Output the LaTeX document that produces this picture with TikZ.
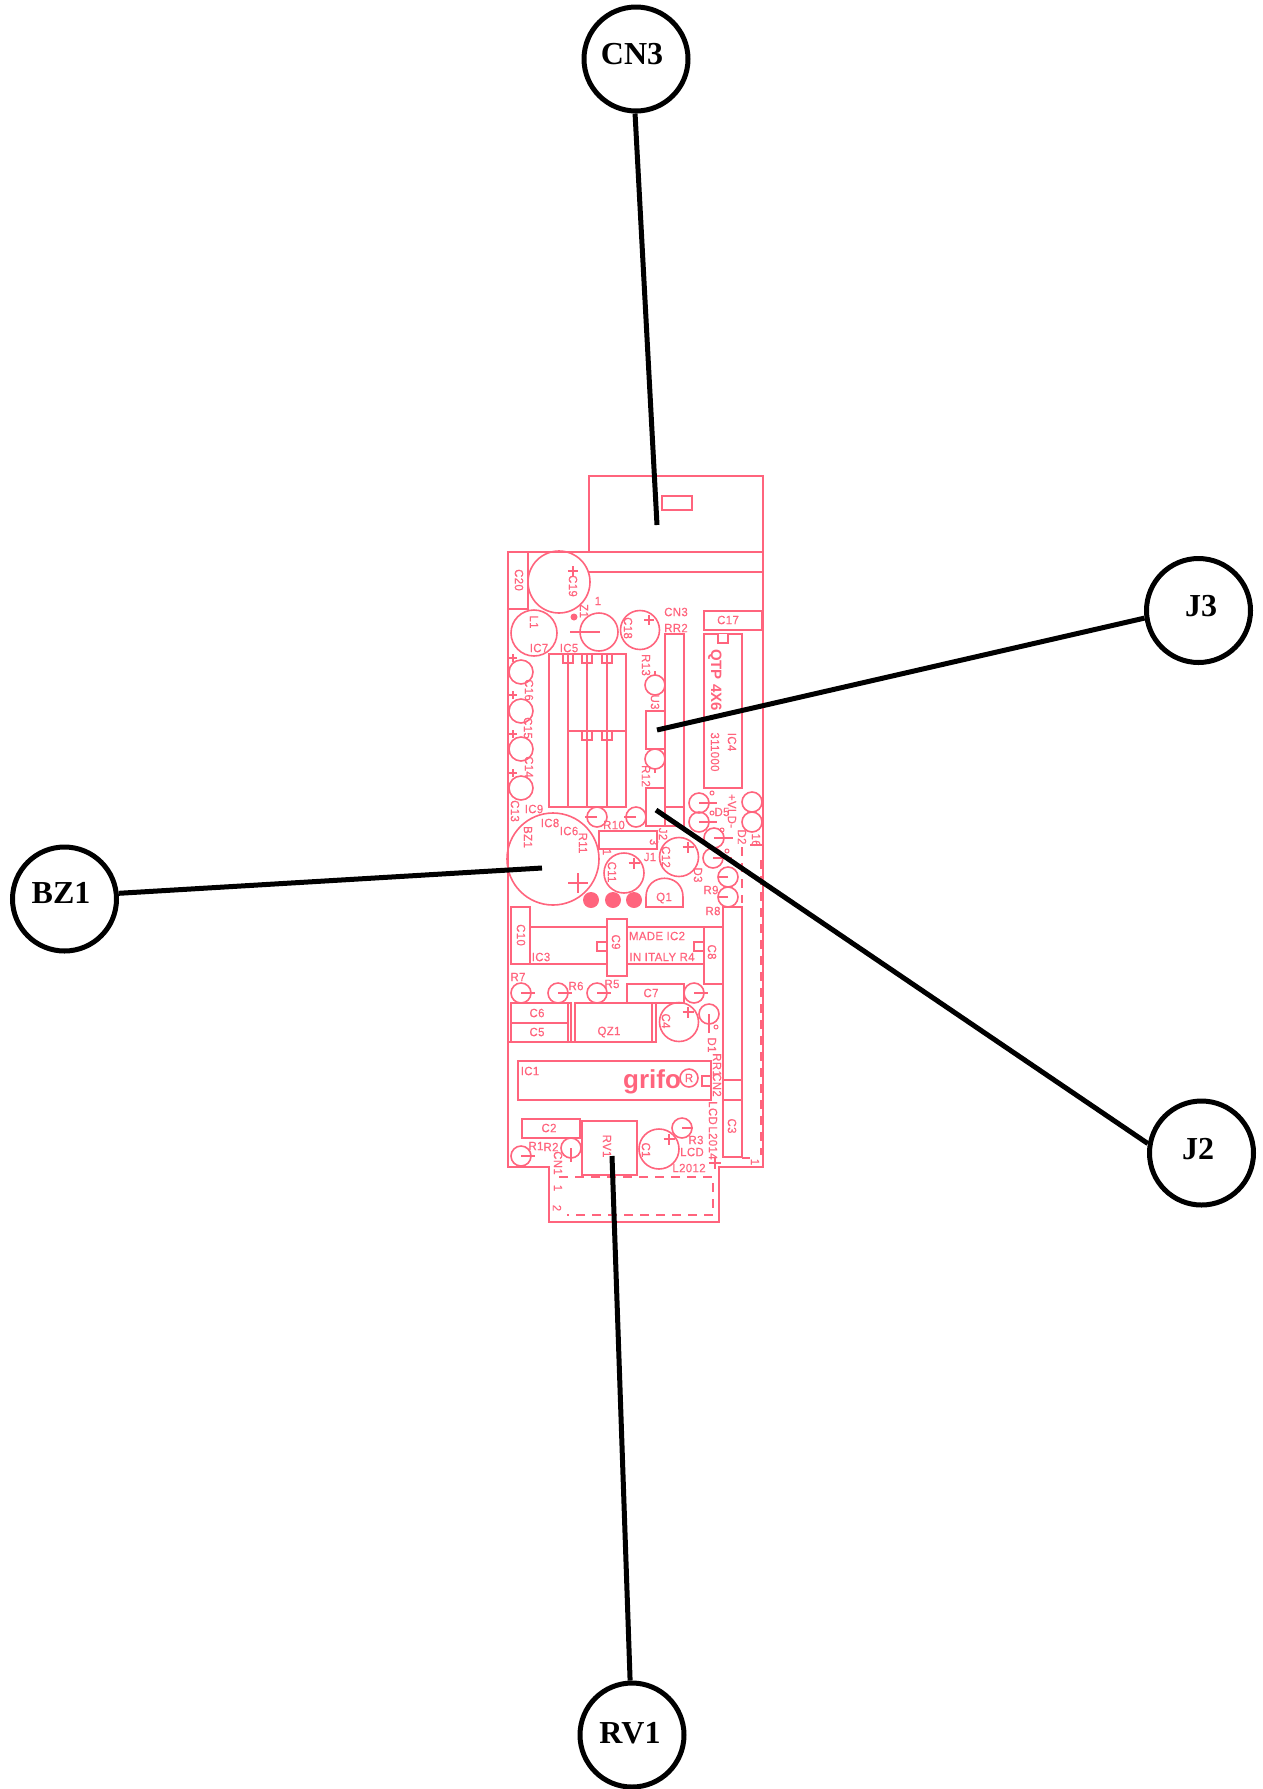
\documentclass[tikz,border=0pt]{standalone}
\usepackage{fontspec}
\setmainfont{Liberation Serif}
\setsansfont{Liberation Sans}
\newfontfamily\pcbfont[FakeStretch=0.95,FakeBold=0.4,LetterSpace=3]{Liberation Sans}
\definecolor{pcbpink}{RGB}{255,100,125}
\tikzset{
  pcb/.style={draw=pcbpink,line width=1.6pt},
  pcbdash/.style={pcb,dash pattern=on 9pt off 7pt},
  pcbtext/.style={text=pcbpink,inner sep=0pt,font=\pcbfont\fontsize{12}{12}\selectfont},
  pcbbold/.style={text=pcbpink,inner sep=0pt,font=\sffamily\bfseries\fontsize{15}{15}\selectfont},
  tagcircle/.style={circle,draw=black,line width=5pt,fill=white,minimum size=104pt,inner sep=0pt},
  tagtext/.style={inner sep=0pt,font=\rmfamily\bfseries\fontsize{32}{32}\selectfont},
  tagline/.style={draw=black,line width=5pt},
}
\begin{document}
\begin{tikzpicture}[x=1pt,y=-1pt]
\useasboundingbox (0,0) rectangle (1263,1789);
% board outline
\draw[pcb] (589,552) -- (589,476) -- (763,476) -- (763,1167) -- (719,1167) -- (719,1222) -- (549,1222) -- (549,1167) -- (508,1167) -- (508,552) -- cycle;
\draw[pcb] (589,552) -- (763,552) (589,572) -- (763,572);
% rectangles
\foreach \a/\b/\c/\d in {
 662/496/692/510, 508/552/528/609, 704/611/762/630, 704/634/742/788,
 549/654/626/807, 568/654/587/807, 587/654/607/807,
 563/654/573/663, 582/654/592/663, 602/654/612/663,
 582/731/592/740, 602/731/612/740,
 646/711/665/749, 646/788/665/826, 665/634/684/807, 665/807/684/826,
 599/831/657/849, 511/907/530/964, 723/907/742/1157,
 723/1080/742/1100, 704/927/723/984, 607/919/627/976,
 597/942/607/951, 694/942/704/951, 627/984/684/1003,
 511/1003/568/1023, 511/1023/568/1042, 575/1003/652/1042, 568/1003/571/1042, 652/1003/656/1042,
 518/1061/711/1100, 702/1076/711/1086, 522/1119/580/1138, 582/1121/637/1175}
 {\draw[pcb] (\a,\b) rectangle (\c,\d);}
\draw[pcb,fill=white] (718,634) -- (718,643) -- (728,643) -- (728,634);
\draw[pcb] (568,731) -- (626,731);
\draw[pcb] (530,927) -- (607,927) (627,927) -- (723,927) (510,964) -- (607,964) (627,964) -- (704,964);
\draw[pcb] (508,1042) -- (657,1042);
% circles
\foreach \a/\b/\r in {
 559/582/31, 534/633/23, 599/632/19, 640/630/19.5, 521/672/12, 521/711/12, 521/749/12, 521/788/12,
 655/685/10, 655/759/10, 597/817/10, 636/817/10, 553/859/46, 624/873/20, 679/857/19.5,
 699/803/10, 699/822/10, 714/838/10, 713/858/10, 752/802/10, 752/822/10, 728/877/10, 728/897/10,
 521/993/10, 558/993/10, 597/993/10, 694/993/10, 679/1022/19.5, 709/1014/10,
 659/1149/20, 682/1128/10, 521/1156/10, 571/1148/10}
 {\draw[pcb] (\a,\b) circle[radius=\r pt];}
% plus marks
\foreach \a/\b/\s in {
 573/571/5, 649/620/5, 513/658/4, 513/695/4, 513/734/4, 513/773/4, 578/883/10, 634/863/5.5, 688/847/5.5,
 688/1012/5.5, 669/1139/5.5, 715/1163/6}
 {\draw[pcb] (\a-\s,\b) -- (\a+\s,\b) (\a,\b-\s) -- (\a,\b+\s);}
% ticks and small leads
\foreach \a/\b/\c/\d in {
 570/632/600/632, 655/675/655/671, 655/769/655/773, 699/803/717/803, 699/822/717/822,
 714/838/733/838, 713/858/732/858, 728/877/718/877, 728/897/718/897,
 521/993/535/993, 558/993/572/993, 597/993/611/993, 694/993/708/993, 709/1014/709/1033,
 521/1156/535/1156, 571/1148/571/1162, 597/817/585/817, 636/817/624/817, 682/1128/693/1128,
 742/1158/750/1158, 750/845/763/845}
 {\draw[pcb] (\a,\b) -- (\c,\d);}
% Q1
\draw[pcb] (646,907) -- (646,897) .. controls (646,872) and (683,872) .. (683,897) -- (683,907) -- cycle;
% pads and dot
\foreach \a in {591,613,634} {\fill[pcbpink] (\a,900) circle[radius=8pt];}
\fill[pcbpink] (574,617) circle[radius=3.5pt];
% small polarity marks
\foreach \a/\b in {712/793, 712/813, 722/830, 727/851, 716/1027}
 {\draw[pcb,line width=1pt] (\a,\b) circle[radius=2pt];}
% dashed lines
\draw[pcbdash] (761,860) -- (761,1155);
\draw[pcbdash] (742,847) -- (742,903);
\draw[pcbdash] (559,1177) -- (713,1177) -- (713,1215) -- (567,1215);
% labels horizontal and rotated
\foreach \a/\b/\t/\r in {
 598/601/1/0, 584/611/Z1/-90, 676/612/CN3/0, 676/628/RR2/0, 519/580/C20/-90, 573/586/C19/-90,
 534/622/L1/-90, 539/648/IC7/0, 569/648/IC5/0, 628/628/C18/-90, 646/665/R13/-90, 655/702/U3/-90,
 728/620/C17/0, 715/752/311000/-90, 732/742/IC4/-90, 646/776/R12/-90,
 529/690/C16/-90, 528/728/C15/-90, 529/767/C14/-90, 515/811/C13/-90,
 534/809/IC9/0, 550/823/IC8/0, 569/831/IC6/0, 583/843/R11/-90, 528/837/BZ1/-90, 614/825/R10/0,
 663/834/J2/-90, 650/857/J1/0, 607/852/1/-90, 654/842/3/-90, 612/872/C11/-90, 666/857/C12/-90,
 698/875/D3/-90, 664/898/Q1/0, 711/890/R9/0, 713/911/R8/0, 722/812/D5/0, 732/811/+VLD-/-90,
 742/837/D2/-90, 756/840/16/-90, 521/935/C10/-90, 616/942/C9/-90, 657/936/MADE IC2/0,
 662/957/IN ITALY R4/0, 712/952/C8/-90, 541/957/IC3/0, 518/977/R7/0, 576/986/R6/0, 612/984/R5/0,
 651/993/C7/0, 537/1013/C6/0, 537/1032/C5/0, 609/1032/QZ1/0, 666/1021/C4/-90, 712/1045/D1/-90,
 717/1065/RR1/-90, 717/1085/CN2/-90, 713/1113/LCD/-90, 713/1143/L2014/-90, 732/1126/C3/-90,
 530/1071/IC1/0, 549/1128/C2/0, 536/1146/R1/0, 551/1147/R2/0, 607/1146/RV1/-90, 646/1150/C1/-90,
 696/1140/R3/0, 692/1152/LCD/0, 689/1168/L2012/0, 558/1163/CN1/-90, 558/1188/1/-90, 557/1208/2/-90,
 755/1162/1/-90}
 {\node[pcbtext,rotate=\r] (lab\a-\b) at (\a,\b) {\t};}
\node[pcbbold,rotate=-90] (qtp) at (715,680) {QTP 4X6};
\node[text=pcbpink,inner sep=0pt,font=\sffamily\bfseries\fontsize{26}{26}\selectfont] (grifo) at (652,1082) {grifo};
\draw[pcb] (689,1078) circle[radius=9pt];
\node[pcbtext] (regmark) at (689,1078) {R};
% tag circles
\node[tagcircle] (cn3) at (636,59) {};
\node[tagcircle] (j3) at (1198.5,610.5) {};
\node[tagcircle] (bz1) at (64.5,899) {};
\node[tagcircle] (j2) at (1201.5,1153) {};
\node[tagcircle] (rv1) at (632,1735) {};
\node[tagtext] (cn3t) at (632,54) {CN3};
\node[tagtext] (j3t) at (1201,606) {J3};
\node[tagtext] (bz1t) at (61,893) {BZ1};
\node[tagtext] (j2t) at (1198,1149) {J2};
\node[tagtext] (rv1t) at (630,1733) {RV1};
\coordinate (cn3end) at (657,525);
\coordinate (j3end) at (657,730);
\coordinate (bz1end) at (542,868);
\coordinate (j2end) at (656,810);
\coordinate (rv1end) at (612,1156);
\draw[tagline] (cn3.-91) -- (cn3end);
\draw[tagline] (j3.188) -- (j3end);
\draw[tagline] (bz1.6) -- (bz1end);
\draw[tagline] (j2.170) -- (j2end);
\draw[tagline] (rv1.92) -- (rv1end);
\end{tikzpicture}
\end{document}
